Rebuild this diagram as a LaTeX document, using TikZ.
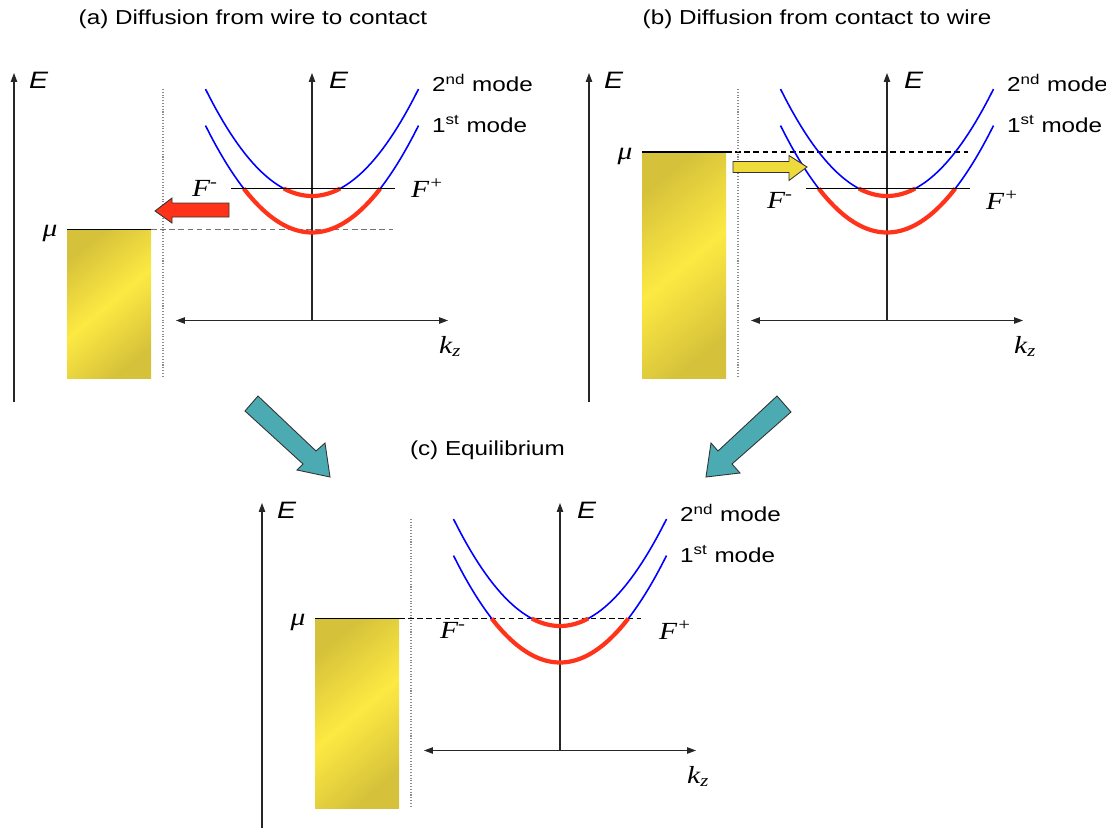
\documentclass[tikz,border=0pt]{standalone}
\usepackage{fontspec}
\setmainfont{Liberation Sans}[FakeStretch=1.2]
\newfontfamily\timesit{Liberation Serif}[FakeStretch=1.2]
\definecolor{modeblue}{RGB}{0,0,255}
\definecolor{modered}{RGB}{255,51,26}
\definecolor{golddark}{RGB}{214,194,58}
\definecolor{goldlight}{RGB}{253,233,66}
\definecolor{flowyellow}{RGB}{238,218,58}
\definecolor{flowteal}{RGB}{75,170,178}
\usetikzlibrary{arrows.meta}

\begin{document}
\begin{tikzpicture}[x=0.02cm, y=-0.02cm,
    axis/.style={black!85, line width=0.6pt},
    lbl/.style={font=\fontsize{11.5}{13}\selectfont},
    elbl/.style={font=\fontsize{13.5}{15}\selectfont\itshape},
    sym/.style={font=\fontsize{14}{16}\selectfont\timesit\itshape},
    band/.style={modeblue, line width=0.9pt},
    occ/.style={modered, line width=2.4pt},
    gold/.style={top color=golddark, bottom color=golddark, middle color=goldlight, shading angle=40},
    flow/.style={draw=black!80, line width=0.5pt}]
  \useasboundingbox (0,0) rectangle (1106,828);
  %% titles
  \node[lbl] (ta) at (253,19) {(a) Diffusion from wire to contact};
  \node[lbl] (tb) at (817,19) {(b) Diffusion from contact to wire};
  \node[lbl] (tc) at (487.5,450) {(c) Equilibrium};
  %% the three band diagrams: name / shift / bottom of E axis / mu / dash colour / F label height
  \foreach \p/\sx/\sy/\ybot/\mu/\dc/\fy in {a/312/320.5/81.5/-91/black!55/-132,
                                           b/887/320.5/81.5/-168.5/black/-120,
                                           c/560/750.5/77.5/-132/black/-120}{
    \begin{scope}[shift={(\sx,\sy)}]
      %% contact: energy axis, filled states, interface
      \draw[axis, -{Triangle[length=5pt,width=3.6pt]}] (-298,\ybot) -- (-298,-247.5);
      \node[elbl, anchor=west] (Ec\p) at (-289,-240.5) {E};
      \shade[gold] (-245,\mu) rectangle (-161,57.5);
      \draw[line width=0.6pt] (-245,\mu) -- (-161,\mu);
      \draw[\dc, line width=0.6pt, dash pattern=on 3.2pt off 2pt] (-161,\mu) -- (81,\mu);
      \node[sym] (mu\p) at (-262,\mu+4) {μ};
      \draw[black!45, line width=0.6pt, densely dotted] (-149,-231.5) -- (-149,57.5);
      %% wire: E-k axes
      \draw[axis, -{Triangle[length=5pt,width=3.6pt]}] (0,0) -- (0,-247.5);
      \node[elbl, anchor=west] (Ew\p) at (11,-240.5) {E};
      \draw[axis, {Triangle[length=5pt,width=3.6pt]}-{Triangle[length=5pt,width=3.6pt]}] (-136,0) -- (136,0);
      \node[sym, anchor=west] (k\p) at (121,26) {k\textsubscript{z}};
      %% subbands, occupied part in red
      \draw[band] plot[domain=-106.5:106.5, samples=60] (\x,{-124.5-0.00943*\x*\x});
      \draw[band] plot[domain=-106.5:106.5, samples=60] (\x,{-88-0.00943*\x*\x});
      \draw[occ] plot[domain=-28.2:28.2, samples=30] (\x,{-124.5-0.00943*\x*\x});
      \draw[occ] plot[domain=-68.3:68.3, samples=50] (\x,{-88-0.00943*\x*\x});
      \node[lbl, anchor=west] (m2\p) at (114,-237.5) {2\textsuperscript{nd} mode};
      \node[lbl, anchor=west] (m1\p) at (114,-196.5) {1\textsuperscript{st} mode};
      \node[sym, anchor=east] (Fm\p) at (-88,\fy) {F\textsuperscript{-}};
      \node[sym, anchor=west] (Fp\p) at (93,\fy) {F\textsuperscript{+}};
    \end{scope}
  }
  %% quasi Fermi level line in (a) and (b)
  \draw[line width=0.5pt] (231,188.5) -- (395,188.5);
  \draw[line width=0.5pt] (806,188.5) -- (970,188.5);
  %% electrons leave the wire
  \draw[flow, fill=modered] (229,203) -- (172,203) -- (172,198) -- (155,211)
    -- (172,223) -- (172,217) -- (229,217) -- cycle;
  %% electrons enter the wire
  \draw[flow, fill=flowyellow] (733,161.5) -- (789,161.5) -- (789,155.5) -- (807,167)
    -- (789,180.5) -- (789,172.5) -- (733,172.5) -- cycle;
  %% both lead to equilibrium
  \draw[flow, fill=flowteal] (245,411) -- (258,396) -- (316,451) -- (325,443)
    -- (330,477) -- (297,470) -- (303,464) -- cycle;
  \draw[flow, fill=flowteal] (777,396) -- (791,412) -- (732,464) -- (740,473)
    -- (706,477) -- (711,443) -- (718,451) -- cycle;
\end{tikzpicture}
\end{document}
